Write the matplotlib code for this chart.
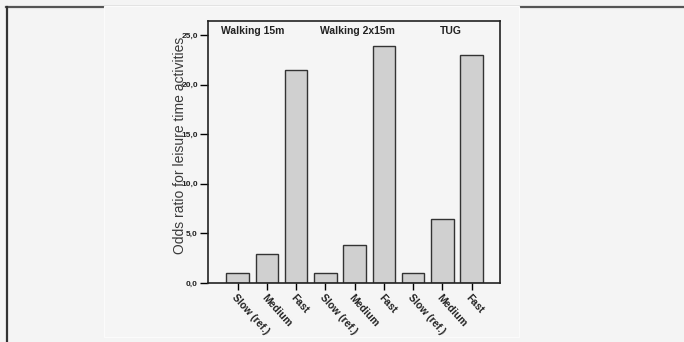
import numpy as np
import matplotlib.pyplot as plt
from matplotlib.lines import Line2D
from matplotlib.patches import Rectangle

plt.rcParams['font.family'] = ['Liberation Sans', 'DejaVu Sans']

groups = ['Walking 15m', 'Walking 2x15m', 'TUG']
speeds = ['Slow (ref.)', 'Medium', 'Fast']
odds_walk15 = [1.0, 2.9, 21.5]
odds_walk2x15 = [1.0, 3.8, 23.9]
odds_tug = [1.0, 6.4, 23.0]

values = odds_walk15 + odds_walk2x15 + odds_tug
labels = speeds * 3
x = np.arange(len(values))

W, H = 684, 342
fig = plt.figure(figsize=(6.84, 3.42), dpi=100, facecolor='#f4f4f4')

# page frame lines and inner panel (behind the axes)
fig.add_artist(Line2D([6 / W, 1], [1 - 6.5 / H, 1 - 6.5 / H], color='#555555', lw=1.6, zorder=-3))
fig.add_artist(Line2D([6.5 / W, 6.5 / W], [0, 1 - 6.5 / H], color='#333333', lw=1.6, zorder=-3))
fig.add_artist(Rectangle((104 / W, 1 - 337 / H), (519 - 104) / W, (337 - 6) / H,
                         facecolor='#f5f5f5', edgecolor='#fbfbfb', lw=0.8, zorder=-2))

ax = fig.add_axes([207.7 / W, 1 - 283 / H, (500 - 207.7) / W, (283 - 21) / H])
ax.set_facecolor('#f5f5f5')
ax.bar(x, values, width=0.77, color='#d0d0d0', edgecolor='#333333', linewidth=1.0)

ax.set_xlim(-1.02, 8.97)
ax.set_ylim(0, 26.4)
ax.set_yticks([0, 5, 10, 15, 20, 25])
ax.set_yticklabels(['0,0', '5,0', '10,0', '15,0', '20,0', '25,0'],
                   fontsize=6, fontweight='bold', color='#222222')
ax.set_xticks(x)
ax.set_xticklabels(labels, rotation=-48, ha='left', va='top', rotation_mode='anchor',
                   fontsize=7.5, fontweight='bold', color='#222222')
ax.tick_params(axis='y', direction='out', length=6, width=1, pad=1)
ax.tick_params(axis='x', direction='out', length=5, width=1, pad=2)
for s in ax.spines.values():
    s.set_linewidth(1.2)
    s.set_color('#222222')

group_x = [0.53, 4.1, 7.3]
for gx, g in zip(group_x, groups):
    ax.text(gx, 25.4, g, ha='center', va='center', fontsize=7.5, fontweight='bold', color='#222222')

fig.text(180 / W, 1 - 145 / H, 'Odds ratio for leisure time activities', rotation=90,
         ha='center', va='center', fontsize=10, color='#3a3a3a')

fig.savefig('out.png', dpi=100, facecolor=fig.get_facecolor())
